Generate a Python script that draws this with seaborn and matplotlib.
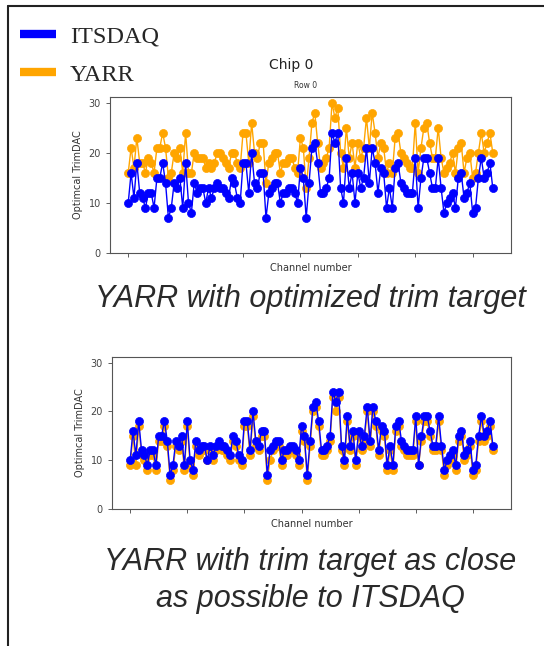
import numpy as np
import pandas as pd
import seaborn as sns
import matplotlib.pyplot as plt
from matplotlib.lines import Line2D

sns.set_style('ticks')
plt.rcParams['font.family'] = ['DejaVu Sans']

channels = np.arange(128)

itsdaq = [10, 16, 11, 18, 12, 11, 9, 12, 12, 9,
          15, 15, 18, 14, 7, 9, 14, 13, 15, 9,
          18, 10, 8, 14, 12, 13, 13, 10, 13, 11,
          13, 14, 13, 13, 12, 11, 15, 14, 11, 10,
          18, 18, 12, 20, 14, 13, 16, 16, 7, 12,
          13, 14, 14, 10, 12, 12, 13,
          13, 12, 10, 17, 15, 7, 14, 21, 22, 18,
          12, 12, 13, 15, 24, 22, 24, 13, 10, 19,
          13, 16, 10, 16, 13, 15, 21, 14, 21, 18,
          12, 17, 16, 9, 13, 9, 17, 18, 14, 13,
          12, 12, 12, 19, 9, 15, 19, 19, 16, 13,
          13, 19, 13, 8, 10, 11, 12, 9, 15, 16,
          11, 12, 14, 8, 9, 15, 19, 15, 16, 18, 13]

yarr_optimized = [16, 21, 17, 23, 18, 18, 16, 19, 18, 16,
                  21, 21, 24, 21, 15, 16, 20, 19, 21, 16,
                  24, 16, 16, 20, 19, 19, 19, 17, 18, 17,
                  18, 20, 20, 19, 18, 17, 20, 20, 18, 17,
                  24, 24, 18, 26, 20, 19, 22, 22, 14, 18,
                  19, 20, 20, 16, 18, 18, 19,
                  19, 17, 16, 23, 21, 13, 19, 26, 28, 22,
                  17, 18, 19, 21, 30, 27, 29, 20, 17, 25,
                  19, 22, 17, 22, 19, 21, 27, 21, 28, 24,
                  19, 22, 21, 16, 18, 16, 23, 24, 20, 19,
                  18, 17, 17, 26, 16, 21, 25, 26, 22, 19,
                  19, 25, 19, 16, 17, 18, 20, 16, 21, 22,
                  16, 19, 20, 15, 16, 20, 24, 20, 22, 24, 20]

yarr_close = [9, 15, 9, 17, 11, 10, 8, 11, 11, 8,
              14, 14, 17, 13, 6, 8, 13, 12, 14, 8,
              17, 9, 7, 13, 11, 12, 12, 10, 12, 10,
              12, 13, 12, 12, 11, 10, 14, 13, 10, 9,
              17, 17, 11, 19, 13, 12, 15, 15, 6, 10,
              12, 13, 13, 9, 11, 11, 12,
              12, 11, 9, 16, 14, 6, 13, 20, 21, 17,
              11, 11, 12, 14, 23, 20, 23, 12, 9, 18,
              12, 15, 9, 15, 12, 14, 20, 13, 20, 17,
              11, 16, 15, 8, 12, 8, 16, 17, 13, 12,
              11, 11, 11, 18, 9, 14, 18, 18, 15, 12,
              12, 18, 12, 7, 9, 10, 11, 8, 14, 15,
              10, 11, 13, 7, 8, 14, 18, 14, 15, 17, 12]

blue = '#0000ff'
orange = '#ffa500'

df = pd.DataFrame({'channel': channels, 'ITSDAQ': itsdaq,
                   'YARR_opt': yarr_optimized, 'YARR_close': yarr_close})

fig = plt.figure(figsize=(5.44, 6.46), dpi=100)
ax1 = fig.add_axes([0.2022, 0.6084, 0.7371, 0.2415])
ax2 = fig.add_axes([0.2059, 0.2121, 0.7335, 0.2353])


def draw(ax, yarr_col):
    for col, c in [(yarr_col, orange), ('ITSDAQ', blue)]:
        sns.lineplot(data=df, x='channel', y=col, ax=ax, color=c,
                     marker='o', markersize=5.8, markeredgecolor=c,
                     markeredgewidth=0.5, linewidth=1)
    ax.set_ylim(0, 31.15)
    ax.set_yticks([0, 10, 20, 30])
    ax.set_xticks(np.arange(0, 121, 20))
    ax.set_xticklabels([])
    ax.tick_params(labelsize=7, length=3, width=0.6, colors='#444')
    for s in ax.spines.values():
        s.set_color('#555')
        s.set_linewidth(0.8)
    ax.set_xlabel('Channel number', fontsize=7, color='#333', labelpad=1)
    ax.set_ylabel('Optimcal TrimDAC', fontsize=7, color='#333', labelpad=4)


draw(ax1, 'YARR_opt')
draw(ax2, 'YARR_close')

fig.text(291 / 544, 1 - 65 / 646, 'Chip 0', ha='center', va='center',
         fontsize=10, color='#222')
fig.text(306 / 544, 1 - 86 / 646, 'Row 0', ha='center', va='center',
         fontsize=5.5, color='#333')

cap = dict(ha='center', va='center', fontsize=22, fontstyle='italic',
           family=['Liberation Sans', 'DejaVu Sans'], color='#2a2a2a')
fig.text(310 / 544, 1 - 299 / 646, 'YARR with optimized trim target', **cap)
fig.text(310 / 544, 1 - 562 / 646, 'YARR with trim target as close', **cap)
fig.text(310 / 544, 1 - 599 / 646, 'as possible to ITSDAQ', **cap)

handles = [Line2D([], [], color=blue, lw=6, solid_capstyle='butt'),
           Line2D([], [], color=orange, lw=6, solid_capstyle='butt')]
fig.legend(handles, ['ITSDAQ', 'YARR'], loc='upper left',
           bbox_to_anchor=(20 / 544, 1 - 25 / 646), frameon=False,
           prop={'family': ['Liberation Serif', 'DejaVu Serif'], 'size': 17.5},
           handlelength=1.5, handletextpad=0.55, labelspacing=0.68,
           borderpad=0, borderaxespad=0)

fig.add_artist(Line2D([8 / 544, 8 / 544], [0, 1 - 6 / 646],
                      transform=fig.transFigure, color='#222', lw=1.5))
fig.add_artist(Line2D([8 / 544, 1], [1 - 6 / 646, 1 - 6 / 646],
                      transform=fig.transFigure, color='#222', lw=1.5))

fig.savefig('out.png', dpi=100)
